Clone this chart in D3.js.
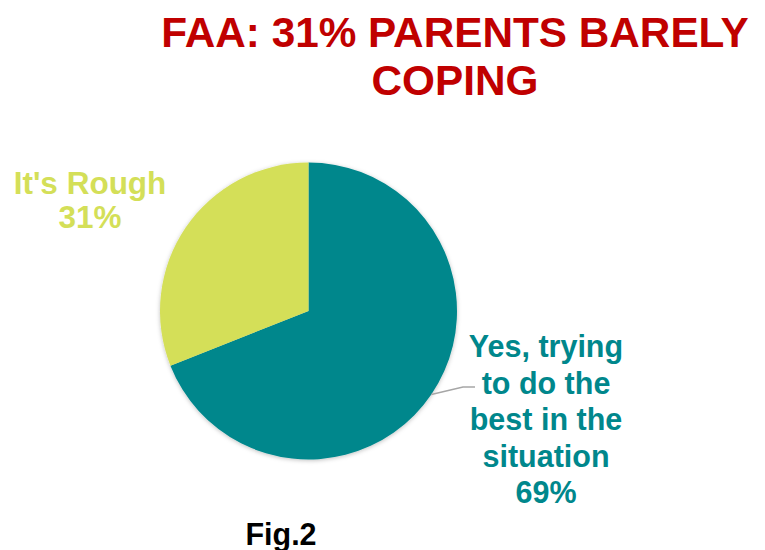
<!DOCTYPE html>
<html>
<head>
<meta charset="utf-8">
<script src="https://cdn.jsdelivr.net/npm/d3@7"></script>
<style>
  body { margin: 0; background: #fff; }
  svg { display: block; font-family: "Liberation Sans", Arial, sans-serif; }
</style>
</head>
<body>
<svg id="chart" width="765" height="550"></svg>
<script>
// Survey answers and their shares (percent)
const categories = ["Yes, trying to do the best in the situation", "It's Rough"];
const values = [69, 31];
const colors = ["#00878C", "#D4DF58"];
const labelLines = [
  ["Yes, trying", "to do the", "best in the", "situation", "69%"],
  ["It's Rough", "31%"]
];
const titleLines = ["FAA: 31% PARENTS BARELY", "COPING"];
const caption = "Fig.2";

const svg = d3.select("#chart");
const cx = 308.5, cy = 311, r = 148.5;

// soft shadow around the pie
const defs = svg.append("defs");
const f = defs.append("filter").attr("id", "shadow")
  .attr("x", "-10%").attr("y", "-10%").attr("width", "120%").attr("height", "120%");
f.append("feDropShadow").attr("dx", 0).attr("dy", 1).attr("stdDeviation", 2)
  .attr("flood-color", "#000").attr("flood-opacity", 0.25);

// Title
svg.append("g").selectAll("text").data(titleLines).join("text")
  .attr("x", 455).attr("y", (d, i) => 47 + i * 48)
  .attr("text-anchor", "middle")
  .attr("font-size", 42.3).attr("font-weight", "bold")
  .attr("fill", "#C00000")
  .text(d => d);

// Pie, starting at 12 o'clock and running clockwise
const pie = d3.pie().sort(null).value(d => d);
const arcs = pie(values);
const arc = d3.arc().innerRadius(0).outerRadius(r);

const g = svg.append("g").attr("transform", `translate(${cx},${cy})`);
g.append("g").attr("filter", "url(#shadow)")
  .selectAll("path").data(arcs).join("path")
  .attr("d", arc)
  .attr("fill", (d, i) => colors[i]);

// Leader line from the middle of the large slice to its label
const a0 = arcs[0];
const ang = (a0.startAngle + a0.endAngle) / 2;
const p0 = [Math.sin(ang) * r, -Math.cos(ang) * r];
g.append("polyline")
  .attr("points", [p0, [154.5, 76], [166.5, 76]].map(p => p.join(",")).join(" "))
  .attr("fill", "none").attr("stroke", "#A6A6A6").attr("stroke-width", 1.5);

// Data labels
const labelPos = [
  { x: 546, y: 357, dy: 36.5 },
  { x: 90, y: 194, dy: 34 }
];
labelLines.forEach((lines, i) => {
  svg.append("text")
    .attr("text-anchor", "middle")
    .attr("font-size", i === 0 ? 30.5 : 31.5).attr("font-weight", "bold")
    .attr("fill", colors[i])
    .selectAll("tspan").data(lines).join("tspan")
    .attr("x", labelPos[i].x)
    .attr("y", (d, k) => labelPos[i].y + k * labelPos[i].dy)
    .text(d => d);
});

// Caption
svg.append("text")
  .attr("x", 281).attr("y", 545)
  .attr("text-anchor", "middle")
  .attr("font-size", 30.5).attr("font-weight", "bold")
  .attr("fill", "#000")
  .text(caption);
</script>
</body>
</html>
